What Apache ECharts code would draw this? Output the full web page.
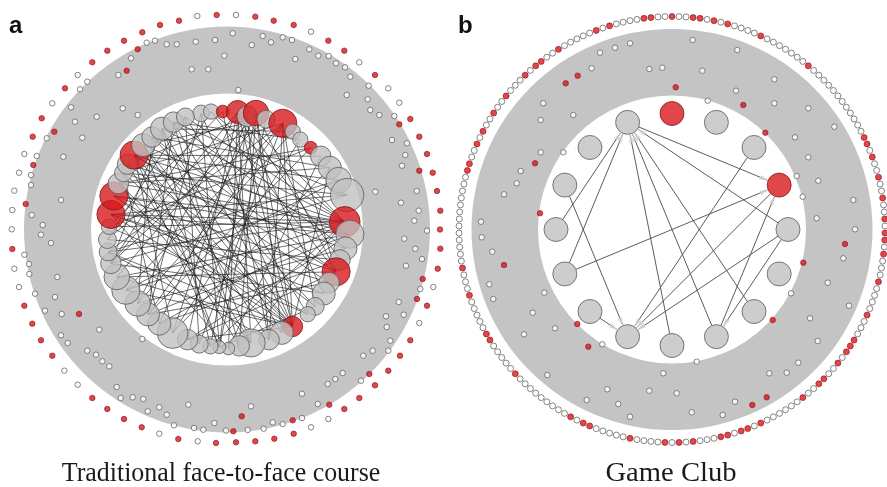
<!DOCTYPE html>
<html>
<head>
<meta charset="utf-8">
<script src="https://cdn.jsdelivr.net/npm/echarts/dist/echarts.min.js"></script>
<style>
  html, body { margin: 0; padding: 0; background: #ffffff; }
  #chart { width: 887px; height: 487px; }
</style>
</head>
<body>
<div id="chart"></div>
<script>
// ---------------- Panel a: traditional face-to-face course ----------------
// Core (interacting) students on the inner circle: clock angle (deg), radius, activity weight
const coreAngleA = [347.4, 352.3, 357.9, 5.2, 10.1, 14.0, 19.5, 27.7, 33.9, 39.2, 45.7, 52.0, 59.0, 66.1, 74.0,
  86.3, 92.2, 99.1, 105.1, 111.2, 117.5, 123.5, 131.1, 136.4, 146.0, 152.1, 159.1, 168.0, 174.0, 179.3,
  183.7, 188.1, 193.6, 199.7, 207.7, 215.7, 222.9, 230.4, 239.0, 246.7, 253.7, 259.3, 265.2, 271.3, 277.4,
  286.5, 292.9, 298.7, 303.3, 308.7, 315.2, 321.0, 327.2, 333.5, 339.7];
const coreRadiusA = [119, 119, 118, 118, 115, 120, 117, 120, 118, 116, 117, 119, 120, 122, 125,
  118, 123, 120, 117, 117, 115, 116, 117, 117, 117, 117, 118, 116, 117, 119,
  118, 118, 118, 117, 117, 116, 116, 116, 118, 120, 121, 121, 120, 118, 117,
  118, 118, 118, 119, 119, 119, 119, 120, 120, 120];
const coreWeightA = [13, 12, 10, 18, 16, 20, 14, 22, 12, 12, 10, 16, 18, 20, 26,
  24, 22, 18, 16, 22, 16, 18, 14, 12, 16, 18, 16, 22, 16, 10,
  10, 12, 14, 16, 24, 18, 18, 20, 22, 20, 16, 14, 14, 12, 22,
  22, 16, 14, 16, 22, 18, 16, 18, 16, 14];
const coreRedA = [2, 3, 5, 7, 10, 15, 19, 24, 44, 45, 49];
const coreEdgesA = [
  [44, 15], [45, 15], [43, 15], [46, 15], [49, 15], [41, 15], [38, 15], [35, 15], [52, 15], [1, 15], [3, 15], [28, 15], [31, 15], [54, 15],
  [44, 16], [45, 16], [48, 16], [36, 16], [33, 16], [50, 16],
  [44, 14], [47, 14], [40, 14], [53, 14],
  [44, 24], [45, 24], [49, 24], [38, 24], [39, 24], [41, 24], [3, 24], [5, 24], [7, 24], [50, 24], [12, 24], [0, 24], [53, 24], [47, 24], [33, 24],
  [3, 27], [3, 29], [3, 33], [3, 37], [3, 40], [3, 21], [3, 18],
  [5, 28], [5, 31], [5, 35], [5, 25], [5, 39], [5, 42], [5, 19],
  [4, 30], [4, 26], [4, 34],
  [7, 36], [7, 38], [7, 41], [7, 26], [7, 22], [7, 47], [7, 32],
  [19, 45], [19, 49], [19, 51], [19, 39], [19, 1], [19, 8], [19, 33],
  [49, 13], [49, 11], [49, 20], [49, 27], [49, 30],
  [51, 12], [51, 22], [53, 17], [53, 28], [54, 23], [0, 30], [0, 36], [1, 40], [2, 26], [8, 37], [9, 34], [10, 43],
  [11, 29], [12, 46], [13, 38], [17, 47], [18, 42], [20, 36], [21, 44], [22, 48], [23, 45], [25, 52], [26, 50],
  [27, 46], [28, 48], [29, 44], [30, 50], [31, 52], [32, 54], [34, 49], [35, 47], [36, 53], [37, 51], [40, 52],
  [42, 54], [43, 2], [46, 10], [48, 4], [50, 6], [52, 8], [53, 9], [6, 40], [6, 30], [10, 36], [12, 34], [13, 41],
  [16, 39], [17, 37], [18, 35], [20, 44], [21, 40], [22, 30], [23, 43], [25, 46], [26, 41], [27, 52]
];
// Peripheral (non-interacting) students, layout positions
const outerOpenA = [
  [197.3, 16], [146.7, 42.7], [155, 40.7], [166.7, 44.3], [176.7, 44.3], [195.7, 41.7], [215, 40], [224.3, 55.7],
  [191.7, 69.3], [208.3, 69.3], [131, 58.3], [118.3, 75], [87.3, 81.7], [80, 89.3], [77.7, 75], [52.3, 103.3],
  [71, 107.3], [75, 121.7], [96.7, 116.7], [122.7, 108.3], [137.7, 115], [46.7, 138.3], [82.3, 137.7], [63.3, 156.7],
  [24.3, 154], [36.7, 156], [19, 172.7], [31, 175], [31, 185], [14.3, 190.7], [61, 200], [12.3, 210], [31.7, 215],
  [11.7, 229.3], [42.7, 225],
  [41, 234.7], [51, 243], [24.3, 254.7], [29, 264], [14.3, 268.7], [29.3, 274], [57.3, 277], [19, 287], [35, 293.7],
  [55, 297], [45, 310.7], [61.7, 314], [99.3, 329.7], [61, 335.3], [67.7, 343], [87.3, 350.7], [96, 354.7],
  [102.3, 361.3], [109.3, 366.3], [142.3, 339], [64.3, 370.7], [77.7, 384.7], [116.7, 387], [120.7, 398],
  [132.7, 397.3], [143.3, 399], [147.7, 411.3], [159.3, 407.3], [166.7, 414.7], [174, 425.3], [188.3, 404.7],
  [194, 428], [203.3, 429.7], [159.3, 433.7], [197.7, 441.3], [214.3, 423], [226, 430.5],
  [427, 230.7], [404.3, 238.7], [415.3, 248.7], [422, 259], [406, 265.7], [420.3, 289], [433.3, 287], [398.7, 302],
  [403.7, 314.7], [386, 316.3], [386.7, 327], [419.3, 323], [390.3, 340.7], [388.3, 350.7], [372.7, 350.7],
  [363.3, 355.7], [342.7, 373], [335.3, 379], [327.7, 384], [361, 380.7], [302, 393.7], [317.7, 404], [302, 418],
  [328.3, 419], [311, 427.3], [282.7, 424], [272.7, 422.3], [263.7, 428.7], [251, 406.3], [247.7, 430],
  [236, 15], [311, 31.7], [232.7, 33.3], [262.7, 36], [271, 42.3], [251.7, 45], [282.7, 37.3], [292, 40],
  [309.3, 49.3], [318.3, 55.7], [295.3, 59], [328.7, 56], [336, 63.3], [345, 67.3], [350.3, 76.7], [359.3, 62.3],
  [368.7, 85.7], [388.3, 88.3], [346.7, 95], [367.7, 99.3], [370.3, 110], [379.3, 115], [399.3, 102.7],
  [394.3, 116], [392, 140], [407, 143.3], [405.3, 155], [402, 165.7], [416.7, 191], [375.3, 191.7], [401, 202.7],
  [418.7, 210.7], [414.3, 220.7], [238.3, 90]
];
const outerRedA = [
  [216.7, 15], [179, 20.7], [160, 25], [142.3, 32.3], [124, 40.7], [107.3, 50.7], [92.3, 62.3], [65, 88.3],
  [41.7, 118.3], [32.7, 136.7], [33.3, 165], [25.7, 204], [137.7, 49.3], [126.7, 70.7], [54.3, 131.7],
  [12.3, 249], [24.3, 305.7], [32.3, 323.7], [41, 340.3], [52.3, 355.7], [79, 314], [92.3, 398], [107.3, 409],
  [124, 419], [141.7, 427.3], [178.3, 439], [216, 443],
  [440.3, 248.7], [437.7, 268.7], [422.7, 279], [417, 299], [427, 305.7], [410.3, 340.3], [400, 355.7],
  [388.3, 370.7], [369.3, 374], [375, 385.3], [359.3, 398], [344.3, 409], [329.3, 404.7], [292.7, 420.3],
  [293.7, 433.7], [274.3, 438.7], [255.3, 441.3], [241.7, 416.3], [233.3, 431.3], [236, 442.3],
  [255.3, 16.7], [273.7, 20.7], [293.7, 25], [328.3, 40.7], [344.3, 50.7], [375, 75], [410.3, 119], [399.3, 124.3],
  [419.3, 136.7], [427, 154], [419.3, 170.7], [432.7, 172.7], [437, 191], [440.3, 210.7], [440, 229.5]
];

// ---------------- Panel b: game club ----------------
const coreAngleB = [337.5, 0, 22.5, 45, 67.5, 90, 112.5, 135, 157.5, 180, 202.5, 225, 247.5, 270, 292.5, 315];
const coreRedB = [1, 4];
const coreEdgesB = [
  [13, 0], [12, 0], [12, 4], [14, 10], [11, 10], [9, 0], [8, 0], [7, 0], [5, 0], [0, 4],
  [3, 10], [4, 10], [5, 10], [5, 8], [8, 4]
];
// Members placed on the outermost ring: number of slots and clock angles of highlighted members
const ringSlotsB = 190;
const ringRedAngleB = [5.1, 7.0, 11.0, 14.9, 24.5, 40.0, 65.1, 66.9, 70.7, 76.6, 82.0, 87.9, 90.1, 93.7, 95.7,
  103.7, 113.2, 121.0, 123.0, 124.8, 128.7, 133.6, 136.2, 142.2, 155.7, 159.1, 161.5, 165.2, 167.5, 175.2,
  177.5, 181.0, 182.8, 190.6, 201.9, 203.9, 207.7, 227.1, 238.8, 240.9, 252.3, 260.1, 285.6, 287.5, 293.1,
  297.0, 302.8, 308.7, 316.4, 320.6, 322.3, 328.3, 339.8, 343.6, 351.6, 353.5, 359.3];
const outerOpenB = [
  [630, 43.3], [615, 47.7], [600, 52.7], [591.7, 68.3], [649.3, 69], [662.3, 67.7], [543.3, 103.3], [540.7, 120],
  [573.3, 115], [540.7, 152.3], [563.3, 152.3], [520.7, 171], [516.7, 183.3], [504, 194.3], [481, 221.7],
  [481.7, 237.3], [492.3, 251.7], [489.3, 284.3], [493.3, 299], [544.3, 292.7], [532.7, 312.7], [555, 328.3],
  [524, 334.3], [602.3, 344.3], [547.3, 375], [607.3, 389.3], [586.7, 400], [618.3, 404], [649.3, 390.7],
  [630, 416.7], [663.3, 373.3],
  [692.7, 40], [737.3, 50], [702.3, 70.7], [774.3, 79.3], [736, 90.7], [707.7, 100.7], [774.3, 103.3],
  [808.3, 108.3], [834.3, 126.7], [795, 137.3], [808.3, 157.3], [796.7, 176], [818.3, 180.7], [802.7, 196.7],
  [853.3, 200], [816.7, 218.3], [855, 229.3], [843.3, 258.3], [827.7, 282.7], [791, 293.3], [849, 305.7],
  [810, 318.3], [817.7, 341], [696.7, 361.7], [798.3, 362.7], [786.7, 372.7], [769.3, 373.3], [735, 401.7],
  [722.7, 415], [691.7, 412.3], [676.7, 393.3]
];
const outerRedB = [
  [565.7, 83.3], [577.7, 75.7], [535, 163.3], [540, 213.3], [504, 265], [577.3, 324], [588.3, 346.7],
  [675.7, 87.3], [743.3, 105], [765.3, 132.7], [845, 244], [803.3, 262.7], [772.7, 320], [766.7, 397.3],
  [752.3, 405]
];

const panelLetters = ['a', 'b'];
const captions = ['Traditional face-to-face course', 'Game Club'];

// ---------------- layout of the two panels ----------------
const frames = [
  { cx: 227, cy: 229.5, half: 225, hole: 136, band: 203 },
  { cx: 672, cy: 229.5, half: 215, hole: 134, band: 200.5, ring: 213, core: 116, node: 24 }
];
const RED = '#d8191d';
const RED_EDGE = '#8e1214';
const NODE_GREY = '#c1c1c1';
const BAND_GREY = '#c4c4c4';

function polar(f, deg, r) {
  const t = deg * Math.PI / 180;
  return [f.cx + r * Math.sin(t), f.cy - r * Math.cos(t)];
}

// core nodes, panel a
const fA = frames[0];
const corePosA = coreAngleA.map((a, i) => polar(fA, a, coreRadiusA[i]));
const coreDataA = corePosA.map((p, i) => {
  const red = coreRedA.indexOf(i) >= 0;
  return {
    value: p,
    symbolSize: coreWeightA[i] * 1.28,
    itemStyle: { color: red ? RED : NODE_GREY, borderColor: red ? '#7a1a1a' : '#5a5a5a', borderWidth: 1 }
  };
});
const edgeDataA = coreEdgesA.map(([s, t]) => ({ coords: [corePosA[s], corePosA[t]] }));

// core nodes, panel b
const fB = frames[1];
const corePosB = coreAngleB.map(a => polar(fB, a, fB.core));
const coreDataB = corePosB.map((p, i) => {
  const red = coreRedB.indexOf(i) >= 0;
  return {
    value: p,
    symbolSize: fB.node,
    itemStyle: { color: red ? RED : NODE_GREY, borderColor: red ? '#8a1a1a' : '#5a5a5a', borderWidth: 1 }
  };
});
const nodeR = fB.node / 2;
const edgeDataB = [];
const arrowDataB = [];
coreEdgesB.forEach(([s, t]) => {
  const p = corePosB[s], q = corePosB[t];
  const dx = q[0] - p[0], dy = q[1] - p[1];
  const len = Math.hypot(dx, dy);
  const ux = dx / len, uy = dy / len;
  const a = [p[0] + ux * nodeR, p[1] + uy * nodeR];
  const b = [q[0] - ux * (nodeR + 1), q[1] - uy * (nodeR + 1)];
  edgeDataB.push({ coords: [a, b] });
  arrowDataB.push({
    value: [b[0] - ux * 3.5, b[1] - uy * 3.5],
    symbolRotate: Math.atan2(-dx, -dy) * 180 / Math.PI
  });
});

// outer ring, panel b
const ringRedSlots = new Set(ringRedAngleB.map(a => Math.round(a / (360 / ringSlotsB)) % ringSlotsB));
const ringOpenB = [], ringRedB = [];
for (let i = 0; i < ringSlotsB; i++) {
  const p = polar(fB, i * 360 / ringSlotsB, fB.ring);
  (ringRedSlots.has(i) ? ringRedB : ringOpenB).push(p);
}

function grid(f) {
  return { left: f.cx - f.half, top: f.cy - f.half, width: 2 * f.half, height: 2 * f.half, containLabel: false };
}
function xAxis(f, i) {
  return { type: 'value', gridIndex: i, min: f.cx - f.half, max: f.cx + f.half, show: false };
}
function yAxis(f, i) {
  return { type: 'value', gridIndex: i, min: f.cy - f.half, max: f.cy + f.half, inverse: true, show: false };
}
function bandSeries(f, i) {
  return {
    type: 'custom', xAxisIndex: i, yAxisIndex: i, clip: false, silent: true, z: 1,
    data: [[f.cx, f.cy, f.hole, f.band]],
    renderItem: (params, api) => {
      const c = api.coord([api.value(0), api.value(1)]);
      const inner = api.coord([api.value(0) + api.value(2), api.value(1)]);
      const outer = api.coord([api.value(0) + api.value(3), api.value(1)]);
      return {
        type: 'ring',
        shape: { cx: c[0], cy: c[1], r: outer[0] - c[0], r0: inner[0] - c[0] },
        style: { fill: BAND_GREY }
      };
    }
  };
}
function dots(data, i, red, size) {
  return {
    type: 'scatter', xAxisIndex: i, yAxisIndex: i, clip: false, silent: true, z: 3,
    symbol: 'circle', symbolSize: size || 5.5,
    itemStyle: red
      ? { color: RED, borderColor: RED_EDGE, borderWidth: 0.8 }
      : { color: '#ffffff', borderColor: '#666666', borderWidth: 1 },
    data: data
  };
}
function caption(text, cx, stretch) {
  return {
    type: 'text', x: cx, y: 487, scaleX: stretch, originX: 0, originY: 0,
    style: { text: text, x: 0, y: 0, font: '27px "Liberation Serif", "Times New Roman", serif', fill: '#1a1a1a', align: 'center', verticalAlign: 'bottom' }
  };
}
function letter(text, x) {
  return {
    type: 'text', x: x, y: 38,
    style: { text: text, font: 'bold 24px "Liberation Sans", Arial, sans-serif', fill: '#111', verticalAlign: 'bottom' }
  };
}

const chart = echarts.init(document.getElementById('chart'), null, { renderer: 'canvas' });
chart.setOption({
  animation: false,
  backgroundColor: '#ffffff',
  grid: [grid(fA), grid(fB)],
  xAxis: [xAxis(fA, 0), xAxis(fB, 1)],
  yAxis: [yAxis(fA, 0), yAxis(fB, 1)],
  series: [
    bandSeries(fA, 0),
    bandSeries(fB, 1),
    {
      type: 'lines', coordinateSystem: 'cartesian2d', xAxisIndex: 0, yAxisIndex: 0, silent: true, z: 2,
      lineStyle: { color: '#1e1e1e', width: 0.75, opacity: 0.85 },
      data: edgeDataA
    },
    {
      type: 'scatter', xAxisIndex: 0, yAxisIndex: 0, clip: false, silent: true, z: 4,
      symbol: 'circle', data: coreDataA
    },
    dots(outerOpenA, 0, false),
    dots(outerRedA, 0, true),
    {
      type: 'lines', coordinateSystem: 'cartesian2d', xAxisIndex: 1, yAxisIndex: 1, silent: true, z: 2,
      lineStyle: { color: '#4a4a4a', width: 1, opacity: 0.9 },
      data: edgeDataB
    },
    {
      type: 'scatter', xAxisIndex: 1, yAxisIndex: 1, clip: false, silent: true, z: 3,
      symbol: 'triangle', symbolSize: [5, 8],
      itemStyle: { color: '#d2d2d2' },
      data: arrowDataB
    },
    {
      type: 'scatter', xAxisIndex: 1, yAxisIndex: 1, clip: false, silent: true, z: 4,
      symbol: 'circle', data: coreDataB
    },
    dots(outerOpenB, 1, false),
    dots(outerRedB, 1, true),
    dots(ringOpenB, 1, false, 6),
    dots(ringRedB, 1, true, 6)
  ],
  graphic: [
    letter(panelLetters[0], 9),
    letter(panelLetters[1], 458),
    caption(captions[0], 221, 0.96),
    caption(captions[1], 671, 1.06)
  ]
});
</script>
</body>
</html>
